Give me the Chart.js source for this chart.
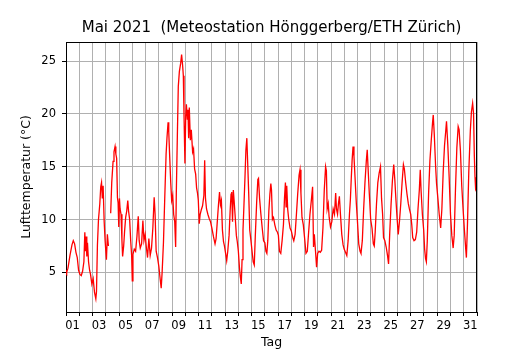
<!DOCTYPE html>
<html><head><meta charset="utf-8">
<script src="https://cdn.jsdelivr.net/npm/chart.js@4/dist/chart.umd.min.js"></script>
<style>html,body{margin:0;padding:0;background:#fff}</style>
</head><body>
<canvas id="c" width="530" height="350"></canvas>
<script>
// time in days since 1 May 2021 00:00
const dayTimes = [
0.00,0.05,0.15,0.30,0.45,0.55,0.65,0.75,0.85,0.95,
1.05,1.15,1.25,1.35,1.42,1.47,1.52,1.57,1.62,1.70,1.78,1.85,1.95,
2.05,2.15,2.25,2.30,2.37,2.45,2.55,2.62,2.68,2.74,2.80,2.88,2.95,
3.05,3.12,3.20,3.28,3.37,3.45,3.55,3.62,3.70,3.76,3.82,3.88,3.93,3.98,
4.03,4.08,4.15,4.22,4.27,4.35,4.42,4.50,4.58,4.66,4.72,4.80,4.88,4.95,
5.00,5.05,5.15,5.25,5.35,5.45,5.52,5.60,5.70,5.80,5.88,5.97,
6.05,6.15,6.25,6.35,6.45,6.55,6.65,6.72,6.80,6.90,
7.00,7.10,7.18,7.25,7.35,7.45,7.55,7.62,7.70,7.75,7.82,7.90,7.97,
8.05,8.12,8.20,8.27,8.32,8.40,8.47,8.55,8.65,8.72,8.80,8.85,8.90,8.97,
9.03,9.08,9.15,9.20,9.25,9.30,9.38,9.45,9.55,9.62,9.70,9.78,9.85,9.92,9.98,
10.05,10.12,10.20,10.30,10.40,10.46,10.52,10.60,10.70,10.80,10.90,
11.00,11.12,11.24,11.32,11.40,11.50,11.58,11.65,11.72,11.80,11.88,11.95,
12.05,12.12,12.20,12.30,12.38,12.45,12.50,12.56,12.62,12.68,12.75,12.85,12.92,
13.00,13.08,13.15,13.22,13.28,13.35,13.42,13.50,13.57,13.64,13.70,13.78,13.86,13.95,
14.05,14.12,14.20,14.28,14.38,14.47,14.52,14.60,14.70,14.80,14.90,
15.00,15.08,15.15,15.22,15.30,15.38,15.45,15.50,15.57,15.65,15.75,15.85,15.95,
16.02,16.10,16.20,16.30,16.40,16.48,16.55,16.60,16.65,16.72,16.80,16.90,
17.00,17.10,17.18,17.28,17.38,17.48,17.58,17.65,17.72,17.80,17.90,
18.00,18.10,18.20,18.30,18.40,18.52,18.60,18.67,18.73,18.82,18.90,18.98,
19.08,19.18,19.28,19.38,19.48,19.58,19.64,19.70,19.78,19.85,19.95,
20.05,20.15,20.25,20.34,20.40,20.48,20.55,20.62,20.70,20.80,20.90,20.98,
21.08,21.18,21.28,21.38,21.45,21.52,21.58,21.65,21.72,21.80,21.90,21.98,
22.08,22.18,22.25,22.35,22.45,22.55,22.65,22.72,22.78,22.88,22.98,
23.08,23.18,23.25,23.32,23.42,23.52,23.62,23.72,23.80,23.88,23.95,
24.05,24.15,24.25,24.33,24.42,24.52,24.62,24.72,24.80,24.88,24.98,
25.06,25.15,25.25,25.35,25.45,25.52,25.62,25.72,25.82,25.90,
26.00,26.08,26.15,26.25,26.35,26.45,26.55,26.65,26.72,26.78,26.88,26.98,
27.05,27.12,27.18,27.25,27.35,27.45,27.55,27.65,27.70,27.78,27.88,27.95,
28.05,28.15,28.26,28.35,28.45,28.55,28.65,28.70,28.80,28.90,
29.00,29.10,29.20,29.28,29.38,29.48,29.58,29.65,29.75,29.85,29.95,
30.05,30.15,30.20,30.28,30.38,30.50,30.58,30.67,30.74,30.80,30.85,30.90,30.98
];
const temps = [
5.2,5.0,5.4,6.6,7.6,8.0,7.7,6.9,6.4,5.2,
4.8,4.7,5.1,6.0,8.8,7.0,8.4,6.5,7.8,6.0,5.2,4.8,3.9,
4.4,3.1,2.5,3.2,7.6,10.0,11.5,13.1,13.5,12.0,13.2,9.8,8.0,
6.2,8.6,7.5,null,10.6,13.5,15.5,16.4,16.9,16.2,15.8,12.1,11.6,9.3,
12.0,11.0,10.5,8.0,6.5,7.5,8.9,10.2,10.8,11.8,10.8,10.0,8.0,6.6,
4.2,6.7,7.2,7.0,8.4,10.3,8.0,7.3,7.7,9.9,8.0,8.6,
7.5,6.4,8.2,6.6,7.3,9.2,12.1,10.5,7.0,6.4,
5.6,4.4,3.5,5.0,7.8,12.1,16.2,17.8,19.2,18.3,16.0,13.5,11.8,
12.3,10.5,9.8,7.4,12.5,18.0,22.6,24.0,24.8,25.6,24.5,23.6,20.0,15.3,
19.8,20.9,19.5,20.4,17.7,20.6,17.5,18.5,16.4,16.7,14.8,14.3,13.0,12.5,11.8,
9.6,10.5,10.9,11.3,12.3,15.6,12.0,11.0,10.5,10.1,9.8,
9.2,8.4,7.7,8.2,9.6,11.4,12.6,11.4,11.8,9.0,7.9,7.5,
6.7,6.1,7.0,8.5,10.8,12.4,12.6,9.8,12.8,11.8,10.5,8.5,7.9,
7.0,5.5,4.6,3.9,6.2,9.0,11.3,14.0,16.6,17.7,15.5,12.5,9.0,8.0,
6.8,6.0,5.7,8.5,11.6,13.8,13.9,12.0,10.5,9.2,8.0,
7.8,7.0,6.8,8.0,10.8,12.4,13.4,12.8,10.0,10.2,9.5,9.0,8.8,
8.5,7.0,6.8,8.0,9.5,12.0,13.5,11.2,13.2,11.0,10.0,9.2,
8.9,8.3,8.0,8.6,10.5,12.5,14.2,14.7,12.5,10.2,9.5,
8.2,6.8,7.0,8.8,10.5,12.0,13.1,7.4,8.6,7.0,5.5,6.8,
7.0,6.9,7.1,9.2,12.8,15.0,14.6,11.0,11.5,10.2,9.3,
9.8,11.0,10.5,12.5,11.0,10.5,11.5,12.2,10.5,8.6,7.6,7.2,
6.9,6.6,8.0,10.5,11.9,14.0,15.6,16.9,16.0,14.0,11.5,9.9,
7.7,7.0,6.8,8.0,11.0,13.5,15.5,16.6,15.0,12.4,10.0,
9.2,7.7,7.5,8.8,11.5,13.5,14.4,15.0,12.0,10.5,8.3,
8.0,7.4,6.6,5.8,8.8,11.5,13.7,15.2,13.8,12.0,10.0,
8.6,9.8,11.5,13.5,15.2,14.8,13.5,12.4,11.5,11.0,
10.5,9.5,8.3,8.0,8.1,8.8,11.0,12.8,14.7,12.8,10.5,9.0,
7.2,6.3,6.0,8.0,12.5,15.6,17.5,19.2,19.9,18.0,15.0,13.4,
12.0,10.5,9.2,11.0,14.5,17.0,18.5,19.3,17.0,14.0,
10.5,8.5,7.3,8.5,13.0,16.8,18.8,18.5,16.5,13.2,11.0,
9.0,7.2,6.4,9.5,14.5,18.5,20.2,21.0,20.0,16.0,14.0,12.8,12.6
];
const xTickLabels = ['01','03','05','07','09','11','13','15','17','19','21','23','25','27','29','31'];
const yTickValues = [5,10,15,20,25];
const titleText = 'Mai 2021  (Meteostation Hönggerberg/ETH Zürich)';

const FONT = 'DejaVu Sans';
const points = dayTimes.map((t, i) => ({x: t, y: temps[i]}));

new Chart(document.getElementById('c'), {
  type: 'line',
  data: { datasets: [{
    data: points,
    borderColor: '#ff0000',
    borderWidth: 1.3,
    pointRadius: 0,
    tension: 0,
    spanGaps: false,
    fill: false
  }]},
  options: {
    responsive: false,
    animation: false,
    devicePixelRatio: 1,
    layout: { padding: { left: 14, right: 53, top: 42, bottom: 0 } },
    plugins: {
      legend: { display: false },
      tooltip: { enabled: false },
      title: { display: false }
    },
    scales: {
      x: {
        type: 'linear', min: 0, max: 31,
        afterBuildTicks: (s) => { s.ticks = Array.from({length: 32}, (_, i) => ({value: i})); },
        afterFit: (s) => { s.height = 38; },
        ticks: {
          autoSkip: false, maxRotation: 0, minRotation: 0,
          color: '#000', font: { family: FONT, size: 11.5 },
          padding: 3, labelOffset: 6.6,
          callback: (v) => (v % 2 === 0 && v <= 30) ? xTickLabels[v / 2] : ''
        },
        grid: { color: '#b0b0b0', lineWidth: 1, tickColor: '#000', tickLength: 4, drawTicks: true },
        border: { color: '#000', width: 1 },
        title: { display: true, text: 'Tag', color: '#000', font: { family: FONT, size: 12.5 }, padding: { top: 2, bottom: 0 } }
      },
      y: {
        type: 'linear', min: 1.25, max: 26.8,
        afterBuildTicks: (s) => { s.ticks = yTickValues.map(v => ({value: v})); },
        afterFit: (s) => { s.width = 52; },
        ticks: { color: '#000', font: { family: FONT, size: 11.5 }, padding: 6 },
        grid: { color: '#b0b0b0', lineWidth: 1, tickColor: '#000', tickLength: 4 },
        border: { color: '#000', width: 1 },
        title: { display: true, text: 'Lufttemperatur (°C)', color: '#000', font: { family: FONT, size: 12.5 }, padding: { top: 5, bottom: 0 } }
      }
    }
  },
  plugins: [{
    id: 'frameAndTitle',
    afterDraw(chart) {
      const {ctx, chartArea: a} = chart;
      ctx.save();
      ctx.strokeStyle = '#000'; ctx.lineWidth = 1;
      ctx.beginPath();
      ctx.moveTo(a.left, a.top + 0.5); ctx.lineTo(a.right, a.top + 0.5);
      ctx.moveTo(a.right - 0.5, a.top); ctx.lineTo(a.right - 0.5, a.bottom);
      ctx.stroke();
      ctx.fillStyle = '#000';
      ctx.font = '15px "' + FONT + '"';
      ctx.textAlign = 'center';
      ctx.textBaseline = 'middle';
      ctx.fillText(titleText, (a.left + a.right) / 2, 28);
      ctx.restore();
    }
  }]
});
</script>
</body></html>
